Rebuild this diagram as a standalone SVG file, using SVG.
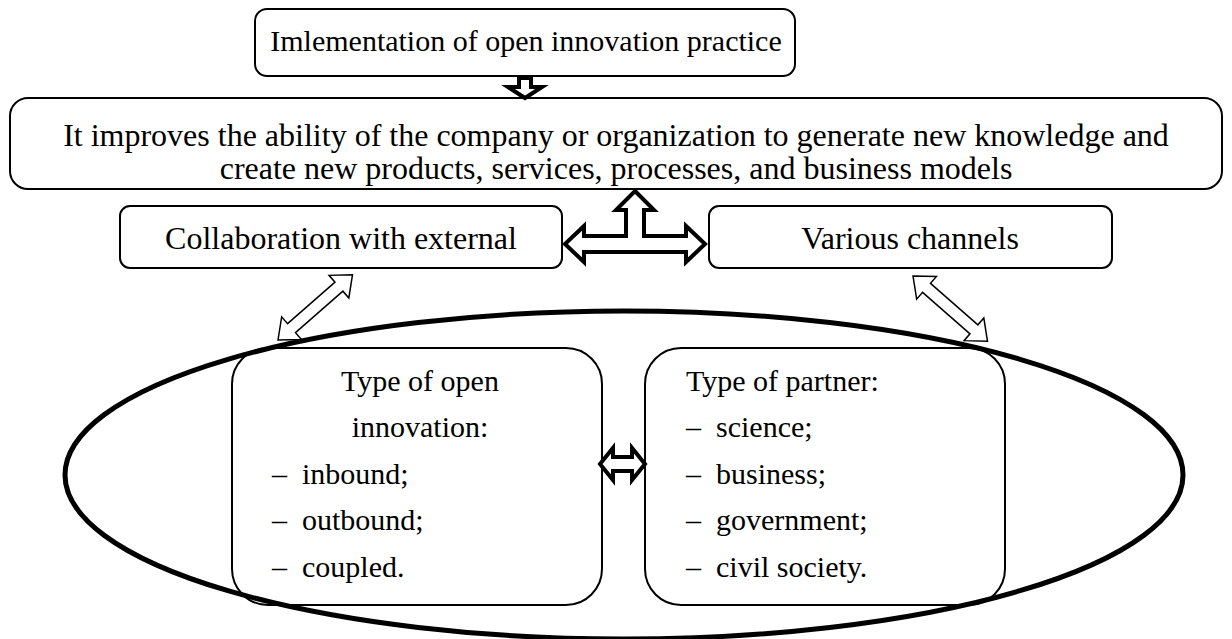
<svg xmlns="http://www.w3.org/2000/svg" width="1232" height="639" viewBox="0 0 1232 639">
<style>
.t{font-family:"Liberation Serif","Times New Roman",serif;font-size:30px;fill:#000}
.b{font-size:32px}
.box{fill:#fff;stroke:#000;stroke-width:2}
.ib{fill:none;stroke:#000;stroke-width:2}
.ar{fill:#fff;stroke:#000;stroke-linejoin:miter}
</style>
<rect width="1232" height="639" fill="#fff"/>
<g id="top">
<rect x="255" y="9" width="540" height="67" rx="12" class="box" stroke-width="4"/>
<text class="t" x="526" y="51" text-anchor="middle" font-size="29">Imlementation of open innovation practice</text>
</g>
<g id="main">
<rect x="10" y="98" width="1212" height="91" rx="18" class="box"/>
<text class="t b" x="616" y="146" text-anchor="middle">It improves the ability of the company or organization to generate new knowledge and</text>
<text class="t b" x="616" y="179" text-anchor="middle">create new products, services, processes, and business models</text>
</g>
<g id="collab">
<rect x="120" y="206" width="442" height="62" rx="10" class="box"/>
<text class="t b" x="341" y="249" text-anchor="middle">Collaboration with external</text>
</g>
<g id="channels">
<rect x="709" y="206" width="403" height="62" rx="10" class="box"/>
<text class="t b" x="910" y="249" text-anchor="middle">Various channels</text>
</g>
<g id="innovation">
<rect x="232" y="348" width="370" height="257" rx="36" class="ib"/>
<text class="t" x="420" y="391" text-anchor="middle">Type of open</text>
<text class="t" x="420" y="437" text-anchor="middle">innovation:</text>
<text class="t" x="272" y="484">–</text><text class="t" x="302" y="484">inbound;</text>
<text class="t" x="272" y="530">–</text><text class="t" x="302" y="530">outbound;</text>
<text class="t" x="272" y="577">–</text><text class="t" x="302" y="577">coupled.</text>
</g>
<g id="partner">
<rect x="645" y="348" width="360" height="257" rx="36" class="ib"/>
<text class="t" x="686" y="391">Type of partner:</text>
<text class="t" x="686" y="437">–</text><text class="t" x="716" y="437">science;</text>
<text class="t" x="686" y="484">–</text><text class="t" x="716" y="484">business;</text>
<text class="t" x="686" y="530">–</text><text class="t" x="716" y="530">government;</text>
<text class="t" x="686" y="577">–</text><text class="t" x="716" y="577">civil society.</text>
</g>
<g id="ellipse">
<ellipse cx="624" cy="475" rx="559" ry="164" fill="none" stroke="#000" stroke-width="5"/>
</g>
<g id="connectors">
<polygon class="ar" stroke-width="4" points="519,78 531,78 531,87 542,87 525,98 508,87 519,87"/>
<polygon class="ar" stroke-width="4" points="635,191 654,210 644,210 644,236 686,236 686,226 705,244 686,262 686,252 584,252 584,262 565,244 584,226 584,236 626,236 626,210 616,210"/>
<polygon class="ar" stroke-width="1.5" transform="translate(278,340) rotate(-41.2)" points="0,0 18,-15 18,-6 81,-6 81,-15 99,0 81,15 81,6 18,6 18,15"/>
<polygon class="ar" stroke-width="1.5" transform="translate(913,276) rotate(41.2)" points="0,0 18,-15 18,-6 81,-6 81,-15 99,0 81,15 81,6 18,6 18,15"/>
<polygon class="ar" stroke-width="4" points="600,464 613,448 613,457 632,457 632,448 645,464 632,480 632,471 613,471 613,480"/>
</g>
</svg>
